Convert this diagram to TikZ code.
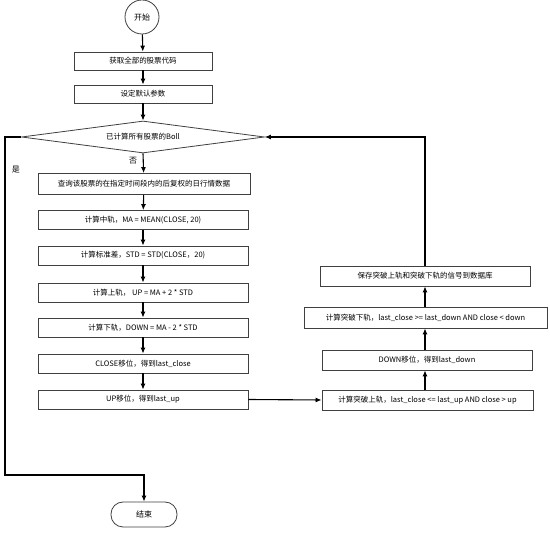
\documentclass[tikz,border=0pt]{standalone}
\usepackage{fontspec}
\setmainfont{Noto Sans CJK SC}
\usetikzlibrary{arrows.meta,shapes.geometric}
\begin{document}
\begin{tikzpicture}[x=1pt,y=-1pt,
  box/.style={draw=black!75,line width=0.8pt,inner sep=0pt,minimum height=19pt,font=\fontsize{7.5}{9}\selectfont},
  flow/.style={line width=1.1pt,-{Latex[length=6pt,width=5pt]}},
  lbl/.style={font=\fontsize{8}{9}\selectfont}]
\useasboundingbox[fill=white] (0,0) rectangle (550,534);
\node[draw=black!75,line width=0.8pt,circle,minimum size=34pt,inner sep=0pt,lbl] (start) at (142,17) {开始};
\node[box,minimum width=138pt,minimum height=18pt] (b1) at (143,61) {获取全部的股票代码};
\node[box,minimum width=138pt,minimum height=18pt] (b2) at (143,94) {设定默认参数};
\node[draw=black!75,line width=0.8pt,diamond,aspect=7.6,inner sep=0pt,minimum width=243pt,minimum height=32pt] (d) at (143,137) {};
\node[font=\fontsize{7.5}{9}\selectfont] (dt) at (d.center) {已计算所有股票的Boll};
\node[box,minimum width=212pt,minimum height=21pt] (b3) at (144,184) {查询该股票的在指定时间段内的后复权的日行情数据};
\node[box,minimum width=210pt] (b4) at (143,220) {计算中轨，MA = MEAN(CLOSE, 20)};
\node[box,minimum width=210pt] (b5) at (143,255.5) {计算标准差，STD = STD(CLOSE，20)};
\node[box,minimum width=210pt] (b6) at (143,292.5) {计算上轨， UP = MA + 2 * STD};
\node[box,minimum width=210pt] (b7) at (143,327.5) {计算下轨，DOWN = MA - 2 * STD};
\node[box,minimum width=210pt] (b8) at (143,363.5) {CLOSE移位，得到last\_close};
\node[box,minimum width=210pt] (b9) at (143,399.5) {UP移位，得到last\_up};
\node[box,minimum width=211pt,minimum height=20pt] (b10) at (427.5,400) {计算突破上轨，last\_close <= last\_up AND close > up};
\node[box,minimum width=210pt,minimum height=20pt] (b11) at (427,360) {DOWN移位，得到last\_down};
\node[box,minimum width=243pt,minimum height=21pt] (b12) at (425.5,317.5) {计算突破下轨，last\_close >= last\_down AND close < down};
\node[box,minimum width=210pt,minimum height=20pt] (b13) at (425,276) {保存突破上轨和突破下轨的信号到数据库};
\node[draw=black!75,line width=0.8pt,rounded corners=12pt,minimum width=66pt,minimum height=25pt,inner sep=0pt,lbl] (end) at (144,514.5) {结束};
\node[lbl] (yes) at (16,170) {是};
\node[lbl] (no) at (133,161) {否};
\coordinate (lt) at (5,137);
\coordinate (lb) at (5,475);
\draw[flow] (start) -- (b1);
\draw[flow] (b1) -- (b2);
\draw[flow] (b2) -- (d.north);
\draw[flow] (d.south) -- (b3);
\draw[flow] (b3) -- (b4);
\draw[flow] (b4) -- (b5);
\draw[flow] (b5) -- (b6);
\draw[flow] (b6) -- (b7);
\draw[flow] (b7) -- (b8);
\draw[flow] (b8) -- (b9);
\draw[flow] (b9.east) -- (b10.west);
\draw[flow] (b10.north -| b13.north) -- (b11.south -| b13.north);
\draw[flow] (b11.north -| b13.north) -- (b12.south -| b13.north);
\draw[flow] (b12.north -| b13.north) -- (b13.south);
\draw[flow] (b13.north) |- (d.east);
\draw[flow] (d.west) -- (lt) -- (lb) -| (end.north);
\end{tikzpicture}
\end{document}
